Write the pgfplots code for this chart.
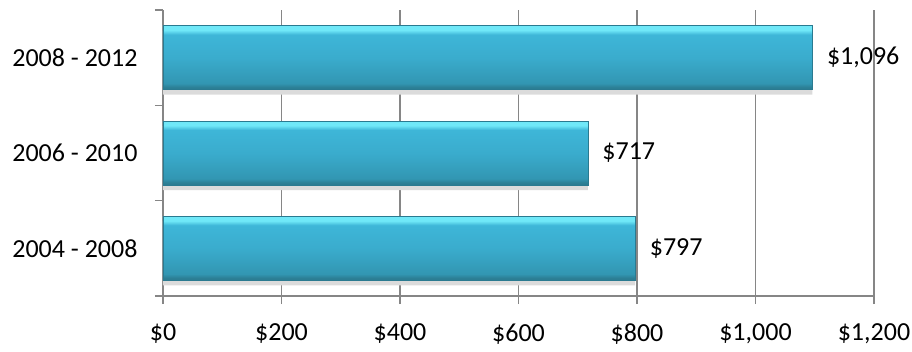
\documentclass[border=0pt]{standalone}
\usepackage{pgfplots}
\pgfplotsset{compat=1.18}
\usepackage{fontspec}
\setmainfont{Carlito}
\definecolor{gridgray}{HTML}{868686}
\definecolor{baredge}{HTML}{2A7A90}
\pgfdeclareverticalshading{barshade}{100bp}{
  color(0bp)=(baredge);
  color(25bp)=(baredge);
  color(27bp)=({rgb,255:red,44;green,128;blue,150});
  color(30bp)=({rgb,255:red,50;green,150;blue,178});
  color(50bp)=({rgb,255:red,58;green,172;blue,205});
  color(68bp)=({rgb,255:red,62;green,182;blue,216});
  color(71.5bp)=({rgb,255:red,112;green,232;blue,248});
  color(100bp)=({rgb,255:red,112;green,232;blue,248})}
\begin{document}
\begin{tikzpicture}
\useasboundingbox (-163bp,-56bp) rectangle (749bp,296bp);
\begin{axis}[
  scale only axis,
  width=711bp, height=286bp,
  anchor=south west, at={(0,0)},
  xmin=0, xmax=1200,
  ymin=-0.5, ymax=2.5,
  xbar, bar width=64bp, bar shift=0pt,
  axis x line*=bottom, axis y line*=left,
  axis line style={gridgray, line width=1.2bp},
  major tick length=8bp,
  tick align=outside,
  xtick={0,200,400,600,800,1000,1200},
  xticklabels={\$0,\$200,\$400,\$600,\$800,{\$1,000},{\$1,200}},
  ytick={-0.5,0.5,1.5,2.5},
  yticklabels={},
  extra y ticks={0,1,2},
  extra y tick labels={2004 - 2008,2006 - 2010,2008 - 2012},
  extra y tick style={tick style={draw=none}},
  xmajorgrids,
  grid style={gridgray, line width=1.2bp},
  tick style={gridgray, line width=1.2bp},
  tick label style={font=\fontsize{26bp}{30bp}\selectfont, text=black},
  xticklabel style={yshift=-16bp},
  yticklabel style={xshift=-14bp},
  clip=false,
  barstyle/.style={draw=baredge, line width=0.6bp, shading=barshade,
    point meta=explicit symbolic, nodes near coords,
    nodes near coords style={font=\fontsize{26bp}{30bp}\selectfont, text=black, anchor=west, xshift=11bp}},
  shadowstyle/.style={draw=none, fill=black!14, bar shift=-5bp, forget plot},
]
\addplot[shadowstyle] coordinates {(797,0) (717,1) (1096,2)};
\addplot[barstyle] coordinates {(797,0) [\$797]};
\addplot[barstyle] coordinates {(717,1) [\$717]};
\addplot[barstyle] coordinates {(1096,2) [{\$1,096}]};
\end{axis}
\end{tikzpicture}
\end{document}
